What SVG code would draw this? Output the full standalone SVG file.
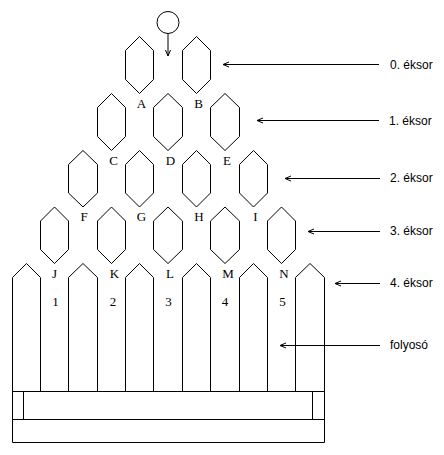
<svg xmlns="http://www.w3.org/2000/svg" width="444" height="455" viewBox="0 0 444 455">
<style>
.s{fill:none;stroke:#000;stroke-width:1}
.lbl{font-family:"Liberation Serif",serif;font-size:13px;text-anchor:middle;fill:#000}
.rl{font-family:"Liberation Sans",sans-serif;font-size:12px;fill:#000}
</style>
<defs>
<marker id="ah" markerWidth="8" markerHeight="8" refX="7" refY="4" orient="auto" markerUnits="userSpaceOnUse">
<path d="M1,1.5 L7,4 L1,6.5" fill="none" stroke="#000" stroke-width="1"/>
</marker>
</defs>
<rect width="444" height="455" fill="#fff"/>
<g id="ball">
<circle class="s" cx="168" cy="22.5" r="11"/>
</g>
<g id="row0">
<polygon class="s" points="139.5,36.5 153.5,50.5 153.5,79.5 139.5,93.5 125.5,79.5 125.5,50.5"/>
<polygon class="s" points="196.5,36.5 210.5,50.5 210.5,79.5 196.5,93.5 182.5,79.5 182.5,50.5"/>
<text class="lbl" x="141.5" y="107.5">A</text>
<text class="lbl" x="198.5" y="107.5">B</text>
</g>
<g id="row1">
<polygon class="s" points="111.5,93.5 125.5,107.5 125.5,136.5 111.5,150.5 97.5,136.5 97.5,107.5"/>
<polygon class="s" points="168,93.5 182.5,107.5 182.5,136.5 168,150.5 153.5,136.5 153.5,107.5"/>
<polygon class="s" points="225,93.5 239.5,107.5 239.5,136.5 225,150.5 210.5,136.5 210.5,107.5"/>
<text class="lbl" x="113.5" y="165">C</text>
<text class="lbl" x="170.5" y="165">D</text>
<text class="lbl" x="227" y="165">E</text>
</g>
<g id="row2">
<polygon class="s" points="83,150.5 97.5,164.5 97.5,193 83,207 68.5,193 68.5,164.5"/>
<polygon class="s" points="139.5,150.5 153.5,164.5 153.5,193 139.5,207 125.5,193 125.5,164.5"/>
<polygon class="s" points="196.5,150.5 210.5,164.5 210.5,193 196.5,207 182.5,193 182.5,164.5"/>
<polygon class="s" points="253.5,150.5 267.5,164.5 267.5,193 253.5,207 239.5,193 239.5,164.5"/>
<text class="lbl" x="84" y="221">F</text>
<text class="lbl" x="141.5" y="221">G</text>
<text class="lbl" x="199" y="221">H</text>
<text class="lbl" x="255.5" y="221">I</text>
</g>
<g id="row3">
<polygon class="s" points="54.5,207 68.5,221 68.5,249.5 54.5,263.5 40.5,249.5 40.5,221"/>
<polygon class="s" points="111.5,207 125.5,221 125.5,249.5 111.5,263.5 97.5,249.5 97.5,221"/>
<polygon class="s" points="168,207 182.5,221 182.5,249.5 168,263.5 153.5,249.5 153.5,221"/>
<polygon class="s" points="225,207 239.5,221 239.5,249.5 225,263.5 210.5,249.5 210.5,221"/>
<polygon class="s" points="281.5,207 295.5,221 295.5,249.5 281.5,263.5 267.5,249.5 267.5,221"/>
<text class="lbl" x="54.5" y="278">J</text>
<text class="lbl" x="114.5" y="278">K</text>
<text class="lbl" x="170" y="278">L</text>
<text class="lbl" x="228" y="278">M</text>
<text class="lbl" x="284" y="278">N</text>
<text class="lbl" x="55.5" y="306">1</text>
<text class="lbl" x="113" y="306">2</text>
<text class="lbl" x="168.5" y="306">3</text>
<text class="lbl" x="225" y="306">4</text>
<text class="lbl" x="282.5" y="306">5</text>
</g>
<g id="pickets">
<path class="s" d="M12.5,442.5 V277.5 L26.5,263.5 L40.5,277.5 V391.5"/>
<path class="s" d="M68.5,391.5 V277.5 L83,263.5 L97.5,277.5 V391.5"/>
<path class="s" d="M125.5,391.5 V277.5 L139.5,263.5 L153.5,277.5 V391.5"/>
<path class="s" d="M182.5,391.5 V277.5 L196.5,263.5 L210.5,277.5 V391.5"/>
<path class="s" d="M239.5,391.5 V277.5 L253.5,263.5 L267.5,277.5 V391.5"/>
<path class="s" d="M295.5,391.5 V277.5 L310,263.5 L324.5,277.5 V442.5"/>
</g>
<g id="base">
<path class="s" d="M12.5,391.5 H324.5 M12.5,419.5 H324.5 M12.5,442.5 H324.5 M23.5,391.5 V419.5 M312.5,391.5 V419.5"/>
</g>
<g id="connectors">
<line class="s" x1="168" y1="33.5" x2="168" y2="56" marker-end="url(#ah)"/>
<line class="s" x1="379" y1="64.5" x2="223" y2="64.5" marker-end="url(#ah)"/>
<line class="s" x1="379" y1="120.5" x2="257" y2="120.5" marker-end="url(#ah)"/>
<line class="s" x1="380" y1="178.5" x2="285" y2="178.5" marker-end="url(#ah)"/>
<line class="s" x1="380" y1="231.5" x2="308" y2="231.5" marker-end="url(#ah)"/>
<line class="s" x1="380" y1="283.5" x2="335" y2="283.5" marker-end="url(#ah)"/>
<line class="s" x1="380" y1="345.5" x2="280" y2="345.5" marker-end="url(#ah)"/>
</g>
<g id="labels">
<text class="rl" x="390" y="68.5">0. éksor</text>
<text class="rl" x="389" y="124.5">1. éksor</text>
<text class="rl" x="390" y="182">2. éksor</text>
<text class="rl" x="390" y="235">3. éksor</text>
<text class="rl" x="390" y="287">4. éksor</text>
<text class="rl" x="390" y="348.5">folyosó</text>
</g>
</svg>
